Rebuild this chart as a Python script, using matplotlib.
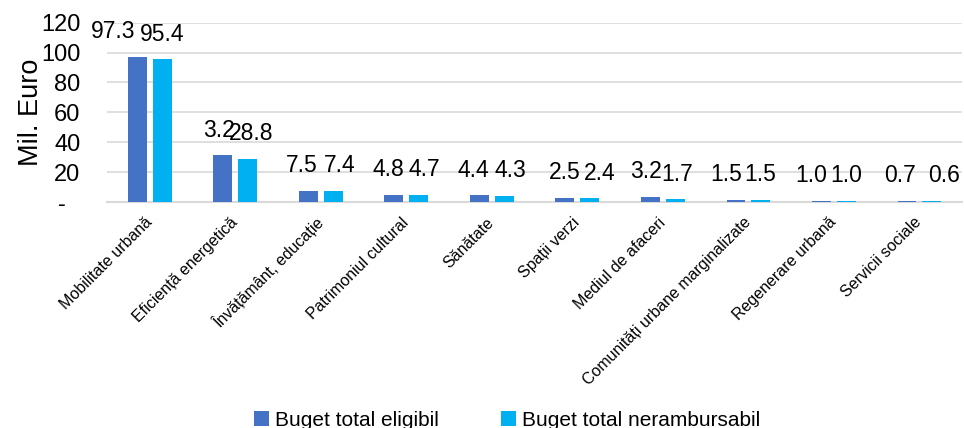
import numpy as np
import matplotlib.pyplot as plt
from matplotlib.transforms import ScaledTranslation

plt.rcParams["font.family"] = ["Liberation Sans", "DejaVu Sans"]

categories = [
    "Mobilitate urbană",
    "Eficiență energetică",
    "Învățământ, educație",
    "Patrimoniul cultural",
    "Sănătate",
    "Spații verzi",
    "Mediul de afaceri",
    "Comunități urbane marginalizate",
    "Regenerare urbană",
    "Servicii sociale",
]
eligibil = [97.3, 31.2, 7.5, 4.8, 4.4, 2.5, 3.2, 1.5, 1.0, 0.7]
nerambursabil = [95.4, 28.8, 7.4, 4.7, 4.3, 2.4, 1.7, 1.5, 1.0, 0.6]
# labels as printed on the chart (the second one is partly hidden in the original)
labels_eligibil = ["97.3", "3.2", "7.5", "4.8", "4.4", "2.5", "3.2", "1.5", "1.0", "0.7"]
labels_nerambursabil = ["95.4", "28.8", "7.4", "4.7", "4.3", "2.4", "1.7", "1.5", "1.0", "0.6"]
yticks = [0, 20, 40, 60, 80, 100, 120]
ytick_labels = ["-", "20", "40", "60", "80", "100", "120"]

# horizontal nudge of the value labels (pixels), as they were pushed apart in the original
nudge1 = [-24, -4, -7, -6, -6, 0, -5, -10, -10, -7]
nudge2 = [0, 4, 7, 6, 6, 10, 2, 0, 0, 12]

c1 = "#4472C4"
c2 = "#00B0F0"
grid_c = "#D9D9D9"

fig = plt.figure(figsize=(9.64, 4.28), dpi=100)
ax = fig.add_axes([0.111, 0.528, 0.887, 0.419])

x = np.arange(len(categories))
w = 0.222
off = 0.144
b1 = ax.bar(x - off, eligibil, w, color=c1, label="Buget total eligibil", zorder=3)
b2 = ax.bar(x + off, nerambursabil, w, color=c2, label="Buget total nerambursabil", zorder=3)

px = 72 / fig.dpi
for xi, v, t, n in zip(x, eligibil, labels_eligibil, nudge1):
    ax.annotate(t, (xi - off, v), xytext=(n * px, 10), textcoords="offset points",
                ha="center", va="bottom", fontsize=16.5, zorder=4)
for xi, v, t, n in zip(x, nerambursabil, labels_nerambursabil, nudge2):
    ax.annotate(t, (xi + off, v), xytext=(n * px, 10), textcoords="offset points",
                ha="center", va="bottom", fontsize=16.5, zorder=4)

ax.set_xlim(-0.5, len(categories) - 0.5)
ax.set_ylim(0, 120)
ax.set_yticks(yticks)
ax.set_yticklabels(ytick_labels, fontsize=17)
ax.yaxis.grid(True, color=grid_c, linewidth=1.2, zorder=0)
ax.tick_params(axis="y", length=0, pad=19)
ax.tick_params(axis="x", length=0, pad=13)
ax.set_xticks(x)
ax.set_xticklabels(categories, rotation=45, ha="right", va="center",
                   rotation_mode="anchor", fontsize=11.5)
for s in ["top", "right", "left"]:
    ax.spines[s].set_visible(False)
ax.spines["bottom"].set_color(grid_c)
ax.spines["bottom"].set_linewidth(1.5)

# the zero label sits further left in the original
zero_lbl = ax.get_yticklabels()[0]
zero_lbl.set_transform(zero_lbl.get_transform() + ScaledTranslation(-0.15, 0, fig.dpi_scale_trans))

ax.set_ylabel("Mil. Euro", fontsize=19.5)
ax.yaxis.set_label_coords(-0.074, 0.5)

fig.legend(handles=[b1, b2], loc="center", bbox_to_anchor=(0.526, 0.018),
           ncol=2, frameon=False, fontsize=15, handlelength=0.7, handleheight=0.7,
           handletextpad=0.3, columnspacing=3.0)

fig.savefig("out.png", dpi=100)
